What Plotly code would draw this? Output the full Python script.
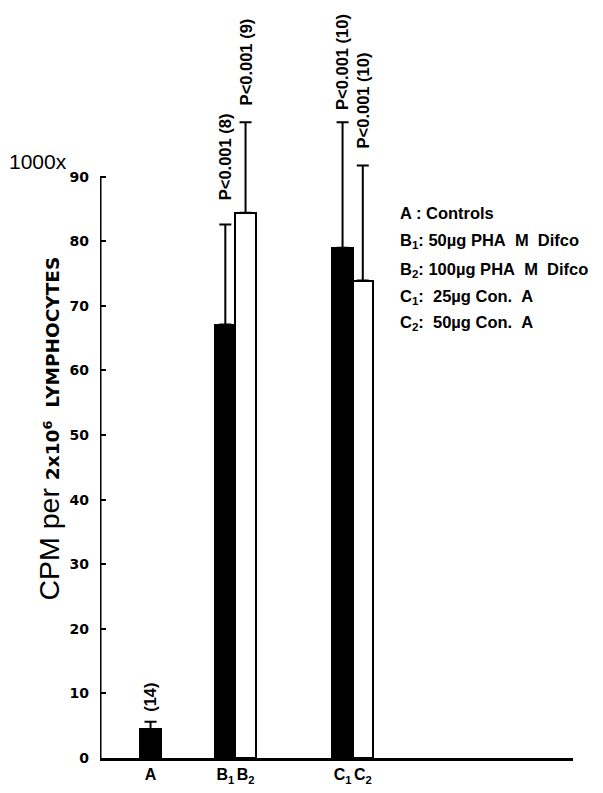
import plotly.graph_objects as go

# ---- data ----
bar_labels = ["A", "B<sub>1</sub>", "B<sub>2</sub>", "C<sub>1</sub>", "C<sub>2</sub>"]
cpm_values = [4.5, 67.1, 84.4, 79.0, 73.9]          # x1000 CPM per 2x10^6 lymphocytes
sd_upper = [1.1, 15.5, 14.0, 19.4, 17.8]
bar_fill = ["black", "black", "white", "black", "white"]
p_labels = ["(14)", "P<0.001 (8)", "P<0.001 (9)", "P<0.001 (10)", "P<0.001 (10)"]
legend_lines = [
    "A : Controls",
    "B<sub>1</sub>:\u00a050µg\u00a0PHA\u00a0\u00a0M\u00a0\u00a0Difco",
    "B<sub>2</sub>:\u00a0100µg\u00a0PHA\u00a0\u00a0M\u00a0\u00a0Difco",
    "C<sub>1</sub>:\u00a0\u00a025µg\u00a0Con.\u00a0\u00a0A",
    "C<sub>2</sub>:\u00a0\u00a050µg\u00a0Con.\u00a0\u00a0A",
]
y_ticks = [0, 10, 20, 30, 40, 50, 60, 70, 80, 90]

# ---- layout geometry (slot positions along the x axis) ----
slot_pos = [2.5, 6.2, 7.2, 12.0, 13.0]
bar_width = 1.0
label_gap = [8, 22, 15, 10, 15]   # pixel gap between cap and p-value label

BOLD = "DejaVu Sans"
LIB = "Liberation Sans"

fig = go.Figure()
fig.add_trace(go.Bar(
    x=slot_pos, y=cpm_values, width=bar_width,
    marker=dict(color=bar_fill, line=dict(color="black", width=2)),
    error_y=dict(type="data", symmetric=False, array=sd_upper,
                 arrayminus=[0] * len(sd_upper),
                 color="black", thickness=2, width=6),
    showlegend=False,
))

# y axis line only up to 90
fig.add_shape(type="line", xref="x", yref="y", x0=0, x1=0, y0=0, y1=max(y_ticks),
              line=dict(color="black", width=3))

# p-value annotations above each error bar
for xp, v, e, t, g in zip(slot_pos, cpm_values, sd_upper, p_labels, label_gap):
    fig.add_annotation(x=xp, y=v + e, text=t, textangle=-90, showarrow=False,
                       xanchor="center", yanchor="bottom", yshift=g,
                       font=dict(family=LIB, size=16.5, color="black", weight="bold"))

# legend text block
leg_y = [84.4, 80.1, 75.6, 71.4, 67.4]
for yy, t in zip(leg_y, legend_lines):
    fig.add_annotation(xref="paper", x=0.63, y=yy, text=t, showarrow=False,
                       xanchor="left", yanchor="middle",
                       font=dict(family=LIB, size=16.5, color="black", weight="bold"))

# y axis title
fig.add_annotation(
    xref="paper", x=0, xshift=-51, y=51.0, yref="y",
    text=("CPM per <span style='font-size:18.5px;font-weight:bold;font-family:DejaVu Sans'>"
          "2x10<sup>6</sup> \u00a0LYMPHOCYTES</span>"),
    textangle=-90, showarrow=False, xanchor="center", yanchor="middle",
    font=dict(family=LIB, size=28.5, color="black"))
fig.add_annotation(xref="paper", x=0, xshift=-62, y=92.3, yref="y", text="1000x",
                   showarrow=False, xanchor="center", yanchor="middle",
                   font=dict(family=LIB, size=21, color="black"))

fig.update_layout(
    width=595, height=785,
    margin=dict(l=92, r=30, t=104, b=35),
    paper_bgcolor="white", plot_bgcolor="white",
    bargap=0,
    xaxis=dict(range=[0, 23.4], tickvals=slot_pos, ticktext=bar_labels,
               tickangle=0, automargin=False,
               showline=True, linecolor="black", linewidth=3, ticks="",
               showgrid=False, zeroline=False,
               tickfont=dict(family=LIB, size=16, color="black", weight="bold")),
    yaxis=dict(range=[0, 100], tickvals=y_ticks, ticks="inside", ticklen=6,
               tickwidth=2, tickcolor="black", showline=False, showgrid=False,
               zeroline=False, ticklabelstandoff=10, automargin=False,
               tickfont=dict(family=BOLD, size=14, color="black", weight="bold")),
)

fig.write_html("out.html")
